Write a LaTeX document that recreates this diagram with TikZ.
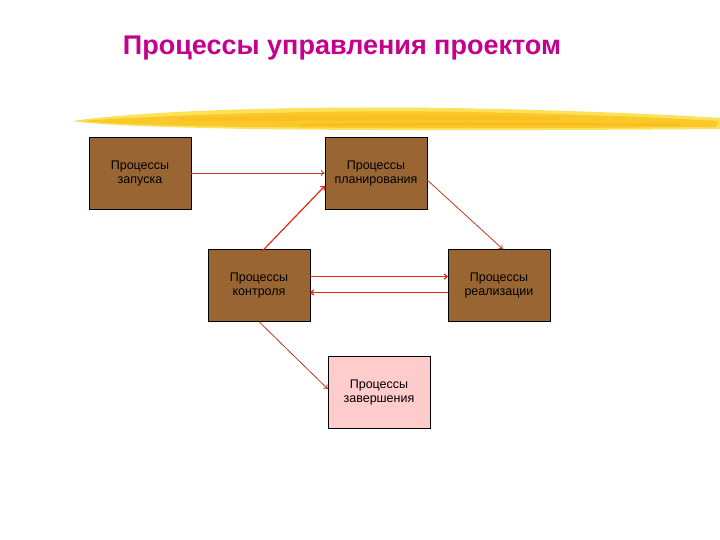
\documentclass[tikz,border=0pt]{standalone}
\usepackage{fontspec}
\setmainfont{Liberation Sans}
\usepackage{tikz}
\usetikzlibrary{positioning,arrows.meta}
\definecolor{boxbrown}{RGB}{153,102,51}
\definecolor{boxpink}{RGB}{255,204,204}
\definecolor{titlemag}{RGB}{196,0,140}
\definecolor{arrred}{RGB}{230,40,20}
\definecolor{arrbrown}{RGB}{190,60,30}
\definecolor{brush}{RGB}{250,200,40}
\definecolor{brushlt}{RGB}{252,225,90}
\tikzset{
  proc/.style={draw=black,fill=boxbrown,minimum width=102pt,minimum height=72pt,
    align=center,font=\fontsize{12.5}{14}\selectfont,inner sep=0pt},
  flow/.style={-{To[length=4pt,width=6pt]},draw=arrred,line width=1.2pt},
  thinflow/.style={-{To[length=4pt,width=6pt]},draw=arrbrown,line width=0.8pt}
}

\begin{document}
\begin{tikzpicture}[x=1pt,y=-1pt]
    \useasboundingbox (0,0) rectangle (720,540);
    % title
    \node[text=titlemag,font=\bfseries\fontsize{27}{30}\selectfont] (title) at (342,48) {Процессы управления проектом};
    % yellow brush stroke
    \fill[brushlt] (72,121) .. controls (150,110) and (300,106) .. (450,108)
      .. controls (560,110) and (660,114) .. (720,118) -- (720,129)
      .. controls (600,130) and (400,131) .. (250,129) .. controls (150,127) and (100,125) .. cycle;
    \fill[brush] (80,121) .. controls (200,113) and (350,110) .. (470,112)
      .. controls (580,114) and (670,118) .. (718,121) -- (716,127)
      .. controls (580,128) and (400,129) .. (260,127) .. controls (170,126) and (110,124) .. cycle;
    \fill[brush!80!orange,opacity=0.6] (180,118) .. controls (300,115) and (420,114) .. (560,117)
      -- (560,120) .. controls (420,120) and (300,121) .. (180,121) -- cycle;
    \fill[brush!70!orange,opacity=0.5] (300,124) .. controls (400,122) and (520,122) .. (680,124)
      -- (680,126) .. controls (520,125) and (400,126) .. (300,126) -- cycle;
    % process boxes
    \node[proc] (start) at (140,173) {Процессы\\запуска};
    \node[proc] (plan) at (376,173) {Процессы\\планирования};
    \node[proc] (ctrl) at (259,285.5) {Процессы\\контроля};
    \node[proc] (exec) at (499,285.5) {Процессы\\реализации};
    \node[proc,fill=boxpink] (close) at (379,392) {Процессы\\завершения};
    % connectors
    \draw[thinflow] (start.east) -- (plan.west);
    \draw[flow] ([xshift=3pt,yshift=-2pt]ctrl.north) -- ([yshift=-13pt]plan.west);
    \draw[thinflow] ([yshift=-7pt]plan.east) -- ([xshift=4pt]exec.north);
    \draw[flow] ([yshift=9pt]ctrl.east) -- ([yshift=9pt]exec.west);
    \draw[flow] ([yshift=-7pt]exec.west) -- ([yshift=-7pt]ctrl.east);
    \draw[thinflow] (ctrl.south) -- ([yshift=3pt]close.west);
\end{tikzpicture}
\end{document}
